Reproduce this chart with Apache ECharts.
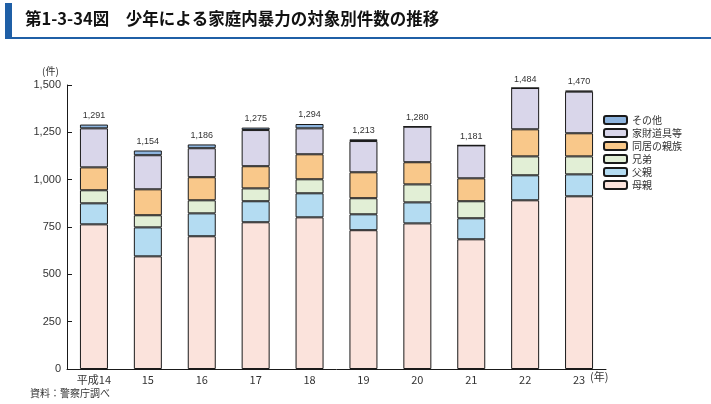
<!DOCTYPE html>
<html><head><meta charset="utf-8">
<script src="https://cdn.jsdelivr.net/npm/echarts@6/dist/echarts.min.js"></script>
<style>html,body{margin:0;padding:0;background:#fff}#c{width:711px;height:404px}</style>
</head><body><div id="c"></div>
<script>
const categories = ['平成14','15','16','17','18','19','20','21','22','23'];
const mother   = [764, 595, 701, 775, 801, 733, 769, 685, 891, 912];
const father   = [111, 153, 121, 111, 127,  84, 111, 111, 132, 116];
const siblings = [ 69,  64,  69,  68,  74,  85,  95,  90, 100,  95];
const relatives= [121, 137, 122, 117, 132, 137, 117, 121, 143, 122];
const property = [206, 180, 153, 191, 137, 165, 188, 174, 218, 220];
const other    = [ 20,  25,  20,  13,  23,   9,   0,   0,   0,   5];
const totals   = [1291,1154,1186,1275,1294,1213,1280,1181,1484,1470];
const yTicks = [0, 250, 500, 750, 1000, 1250, 1500];

const FONT = '"Liberation Sans","Noto Sans CJK JP",sans-serif';
const JP = '"Noto Sans CJK JP",sans-serif';
const chart = echarts.init(document.getElementById('c'));
function bar(name, data, color){
  return {name, type:'bar', stack:'a', data, barWidth:28,
    itemStyle:{color, borderColor:'#1a1a1a', borderWidth:1}};
}
chart.setOption({
  animation:false,
  textStyle:{fontFamily:FONT},
  grid:{left:67, right:105, top:85, bottom:35},
  legend:{orient:'vertical', left:598, top:110,
    data:['その他','家財道具等','同居の親族','兄弟','父親','母親'],
    itemWidth:23, itemHeight:8, itemGap:3,
    textStyle:{fontSize:10, lineHeight:10, color:'#333', fontFamily:JP, padding:[0,0,0,0]}},
  xAxis:{type:'category', data:categories,
    axisLine:{lineStyle:{color:'#1a1a1a', width:1}},
    axisTick:{inside:true, length:4, lineStyle:{color:'#1a1a1a'}},
    axisLabel:{fontSize:11, color:'#333', margin:5, fontFamily:JP}},
  yAxis:{type:'value', min:yTicks[0], max:yTicks[yTicks.length-1], interval:250,
    splitLine:{show:false},
    axisLine:{show:true, lineStyle:{color:'#1a1a1a', width:1}},
    axisTick:{show:true, inside:true, length:5, lineStyle:{color:'#1a1a1a'}},
    axisLabel:{fontSize:11, color:'#333', margin:6,
      formatter:v=>v.toLocaleString('en-US')}},
  graphic:[
    {type:'rect', shape:{x:5, y:3, width:7, height:36}, style:{fill:'#1f5fa6'}},
    {type:'rect', shape:{x:5, y:37, width:706, height:2}, style:{fill:'#1f5fa6'}},
    {type:'text', left:25, top:10, style:{text:'第1-3-34図　少年による家庭内暴力の対象別件数の推移',
      font:'bold 16.5px "Noto Sans CJK JP",sans-serif', fill:'#111'}},
    {type:'text', left:42, top:66, style:{text:'(件)', font:'10px "Noto Sans CJK JP",sans-serif', fill:'#333'}},
    {type:'text', left:590, top:371, style:{text:'(年)', font:'11px "Noto Sans CJK JP",sans-serif', fill:'#333'}},
    {type:'text', left:30, top:388, style:{text:'資料：警察庁調べ', font:'10px "Noto Sans CJK JP",sans-serif', fill:'#333'}}
  ],
  series:[
    bar('母親', mother, '#fbe3dc'),
    bar('父親', father, '#b4dcf2'),
    bar('兄弟', siblings, '#e2efd6'),
    bar('同居の親族', relatives, '#f9c88a'),
    bar('家財道具等', property, '#d9d6ea'),
    bar('その他', other, '#8db4de'),
    {name:'合計', type:'line', data:totals, symbol:'circle', symbolSize:1, showSymbol:true,
      itemStyle:{color:'rgba(0,0,0,0)'}, lineStyle:{width:0, color:'rgba(0,0,0,0)'},
      label:{show:true, position:'top', distance:4, fontSize:9, color:'#333',
        formatter:p=>p.value.toLocaleString('en-US')}, silent:true, z:5}
  ]
});
</script></body></html>
